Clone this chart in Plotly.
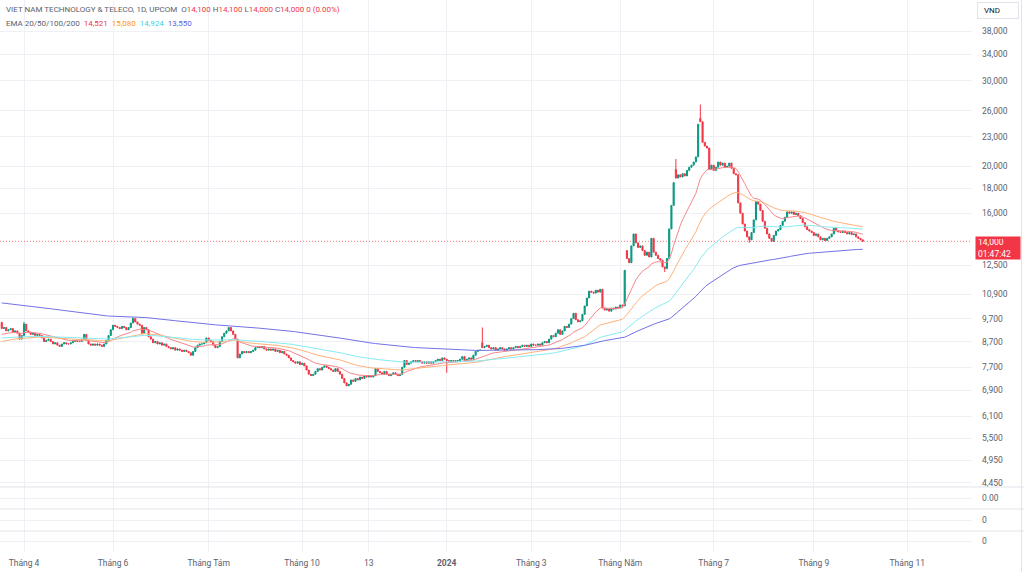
import math
import pandas as pd
import plotly.graph_objects as go
from plotly.subplots import make_subplots

# ------------------------------------------------------------------ data
START_DATE = "2023-03-20"
END_DATE = "2024-10-04"
HOLIDAYS = ["2023-05-01", "2023-05-02", "2023-05-03", "2023-09-01", "2023-09-04",
            "2024-01-01", "2024-02-08", "2024-02-09", "2024-02-12", "2024-02-13",
            "2024-02-14", "2024-04-18", "2024-04-29", "2024-04-30", "2024-05-01",
            "2024-09-02", "2024-09-03"]

closes = [
    9250, 9300, 9150, 9200, 9250, 9100, 9150, 9050, 8800, 8950,
    9450, 9150, 9100, 9000, 9050, 8950, 9000, 8950, 8850, 8700,
    8750, 8800, 8700, 8600, 8650, 8550, 8500, 8600, 8650, 8600,
    8600, 8650, 8700, 8750, 8700, 8700, 8800, 9000, 8750, 8600,
    8550, 8600, 8550, 8600, 8550, 8500, 8600, 8750, 8950, 9200,
    9400, 9350, 9300, 9250, 9350, 9300, 9200, 9300, 9500, 9700,
    9550, 9450, 9400, 9050, 9300, 9200, 8900, 8800, 8650, 8700,
    8600, 8650, 8550, 8600, 8500, 8450, 8400, 8450, 8350, 8400,
    8350, 8300, 8350, 8300, 8250, 8150, 8300, 8450, 8550, 8600,
    8600, 8650, 8850, 8750, 8700, 8550, 8450, 8500, 8700, 8900,
    9050, 9150, 9300, 9150, 9000, 8800, 8050, 8200, 8300, 8250,
    8300, 8250, 8300, 8350, 8450, 8500, 8450, 8500, 8400, 8350,
    8400, 8350, 8400, 8300, 8350, 8250, 8300, 8200, 8150, 8050,
    7950, 7900, 7850, 7900, 7800, 7850, 7750, 7600, 7450, 7400,
    7450, 7550, 7650, 7600, 7700, 7750, 7700, 7650, 7600, 7550,
    7650, 7550, 7450, 7300, 7150, 7050, 7100, 7250, 7200, 7300,
    7250, 7350, 7300, 7400, 7350, 7400, 7350, 7400, 7650, 7550,
    7500, 7450, 7550, 7450, 7400, 7450, 7500, 7450, 7400, 7450,
    7700, 7950, 7800, 7850, 7900, 7950, 7900, 7950, 7900, 7850,
    7900, 7850, 7900, 7850, 7900, 7950, 8000, 7950, 8050, 8000,
    7950, 7900, 7950, 7900, 7950, 7950, 8000, 8100, 7950, 8000,
    8050, 8000, 8150, 8300, 8350, 8350, 8450, 8500, 8550, 8450,
    8400, 8450, 8350, 8400, 8450, 8400, 8350, 8400, 8450, 8400,
    8450, 8500, 8450, 8500, 8550, 8500, 8550, 8500, 8600, 8550,
    8550, 8600, 8550, 8650, 8700, 8650, 8800, 8950, 8900, 9050,
    9200, 9000, 9150, 9350, 9300, 9450, 9700, 9950, 9650, 9550,
    9600, 9900, 10300, 10700, 11050, 11000, 10950, 11100, 11000, 11150,
    10200, 10100, 10150, 10050, 10200, 10150, 10250, 10200, 10350, 10300,
    12200, 12900, 12650, 13700, 14500, 13900, 13600, 13700, 13400, 13100,
    13300, 13000, 14200, 13300, 13100, 12900, 12800, 12400, 12300, 12900,
    14850, 16600, 18500, 18900, 19200, 19000, 19300, 19100, 19600, 19900,
    20100, 20400, 20900, 24400, 24700, 22400, 22000, 21800, 19700, 20100,
    19600, 19900, 20400, 20100, 20300, 19900, 20000, 20300, 19800, 19300,
    19200, 16800, 16000, 15200, 14700, 14300, 14100, 14600, 15500, 16900,
    16700, 16200, 15400, 14900, 14500, 14200, 14000, 14400, 14700, 14800,
    15100, 15400, 15700, 16100, 16000, 16100, 15900, 16000, 15800, 15600,
    15300, 15000, 14800, 14700, 14600, 14400, 14500, 14300, 14100, 14200,
    14050, 14200, 14300, 14500, 14900, 14700, 14650, 14600, 14700, 14600,
    14500, 14600, 14450, 14500, 14300, 14200, 14100, 14000,
]
open_overrides = {0: 9530, 216: 8650, 281: 13400, 303: 19700, 314: 25100}
high_overrides = {10: 9550, 59: 9750, 216: 9300, 303: 20700, 314: 26800}
low_overrides = {200: 7500, 298: 12100, 336: 13900}

ema_periods = [20, 50, 100, 200]
ema_seeds = [9000, 8700, 8850, 10450]
ema_line_colors = ["#f6868a", "#ffb27a", "#86ebf3", "#7272e6"]
ema_legend_values = ["14,521", "15,080", "14,924", "13,550"]
ema_legend_colors = ["#F23645", "#FF9800", "#3fd0e0", "#5b5fe0"]

last_ohlc = [("O", "14,100"), ("H", "14,100"), ("L", "14,000"), ("C", "14,000")]
change_text = "0 (0.00%)"
symbol_title = "VIET NAM TECHNOLOGY &amp; TELECO, 1D, UPCOM"
countdown = "01:47:42"
currency = "VND"

price_ticks = [4450, 4950, 5500, 6100, 6900, 7700, 8700, 9700, 10900, 12500,
               16000, 18000, 20000, 23000, 26000, 30000, 34000, 38000]
time_ticks = [("2023-04-01", "Tháng 4"), ("2023-06-01", "Tháng 6"),
              ("2023-08-01", "Tháng Tám"), ("2023-10-01", "Tháng 10"),
              ("2023-11-13", "13"), ("2024-01-01", "<b>2024</b>"),
              ("2024-03-01", "Tháng 3"), ("2024-05-01", "Tháng Năm"),
              ("2024-07-01", "Tháng 7"), ("2024-09-01", "Tháng 9"),
              ("2024-11-01", "Tháng 11")]
pane_labels = ["0.00", "0", "0"]

# ------------------------------------------------------------------ derived
dates = list(pd.bdate_range(START_DATE, END_DATE, freq="C", holidays=HOLIDAYS))
n = min(len(dates), len(closes))
dates = dates[:n]
closes = closes[:n]
idx = list(range(n))

opens, highs, lows = [], [], []
for i in range(n):
    o = open_overrides.get(i, closes[i - 1] if i > 0 else closes[i])
    c = closes[i]
    opens.append(o)
    highs.append(high_overrides.get(i, max(o, c)))
    lows.append(low_overrides.get(i, min(o, c)))

emas = []
for p, seed in zip(ema_periods, ema_seeds):
    a = 2.0 / (p + 1)
    vals = [seed]
    for c in closes[1:]:
        vals.append(a * c + (1 - a) * vals[-1])
    emas.append(vals)

future = list(pd.bdate_range(dates[-1] + pd.Timedelta(days=1), "2024-12-31"))
all_dates = dates + future
tickvals, ticktext = [], []
for d, label in time_ticks:
    t = pd.Timestamp(d)
    k = next(j for j, dd in enumerate(all_dates) if dd >= t)
    tickvals.append(k)
    ticktext.append(label)

# ------------------------------------------------------------------ figure
W, H = 1024, 572
ML, MR, MT, MB = 0, 52, 0, 20
PW, PH = W - ML - MR, H - MT - MB
X_RANGE = [-0.79, 436.1]
Y_RANGE = [3.6396, 4.6437]
UP, DN = "#089981", "#F23645"
GRID = "#eef0f5"
SEP = "#e0e3eb"
TXT = "#5d606b"
FONT = "Roboto"


def py(pix):
    return 1 - pix / PH


fig = make_subplots(rows=4, cols=1, shared_xaxes=True, vertical_spacing=0)

fig.add_trace(go.Scatter(x=X_RANGE, y=[closes[-1], closes[-1]], mode="lines",
                         line=dict(color="rgba(242,54,69,0.7)", width=1, dash="1px,2px"),
                         hoverinfo="skip"),
              row=1, col=1)

fig.add_trace(go.Candlestick(
    x=idx, open=opens, high=highs, low=lows, close=closes,
    increasing=dict(line=dict(color=UP, width=1), fillcolor=UP),
    decreasing=dict(line=dict(color=DN, width=1), fillcolor=DN),
    whiskerwidth=0, hoverinfo="skip"), row=1, col=1)

for vals, col in zip(emas, ema_line_colors):
    fig.add_trace(go.Scatter(x=idx, y=vals, mode="lines",
                             line=dict(color=col, width=1), hoverinfo="skip"),
                  row=1, col=1)

for r in (2, 3, 4):
    fig.add_trace(go.Scatter(x=[], y=[], mode="lines"), row=r, col=1)

domains = [[py(487), 1], [py(509), py(487)], [py(531), py(509)], [0, py(531)]]

fig.update_xaxes(range=X_RANGE, tickvals=tickvals, ticktext=ticktext,
                 showgrid=True, gridcolor=GRID, gridwidth=1, zeroline=False,
                 showline=False, ticks="", rangeslider_visible=False,
                 tickfont=dict(family=FONT, size=8.5, color=TXT))
fig.update_xaxes(showticklabels=True, ticklabelstandoff=4, row=4, col=1)

fig.update_layout(
    width=W, height=H, margin=dict(l=ML, r=MR, t=MT, b=MB),
    paper_bgcolor="white", plot_bgcolor="white", showlegend=False,
    hovermode=False,
    yaxis=dict(domain=domains[0], type="log", range=Y_RANGE, side="right",
               tickvals=price_ticks, ticktext=[f"{v:,}" for v in price_ticks],
               showgrid=True, gridcolor=GRID, zeroline=False, showline=False,
               ticks="", ticklabelstandoff=9,
               tickfont=dict(family=FONT, size=8.5, color=TXT)),
)
for k, (dom, lab) in enumerate(zip(domains[1:], pane_labels), start=2):
    fig.update_layout(**{f"yaxis{k}": dict(
        domain=dom, range=[-1, 1], side="right", tickvals=[0], ticktext=[lab],
        showgrid=True, gridcolor=GRID, zeroline=False, showline=False,
        ticks="", ticklabelstandoff=9,
        tickfont=dict(family=FONT, size=8.5, color=TXT))})

shapes = []
for yp in (py(487), py(509), py(531)):
    shapes.append(dict(type="line", xref="paper", yref="paper", x0=0, x1=W / PW,
                       y0=yp, y1=yp, line=dict(color=SEP, width=1)))
shapes.append(dict(type="line", xref="paper", yref="paper", x0=1021.5 / PW,
                   x1=1021.5 / PW, y0=-MB / PH, y1=1, line=dict(color=SEP, width=1)))
fig.update_layout(shapes=shapes)

red = lambda s: f"<span style='color:{DN}'>{s}</span>"
line1 = symbol_title + "&nbsp;&nbsp;" + "&nbsp;".join(
    f"{k}{red(v)}" for k, v in last_ohlc) + "&nbsp;" + red(change_text)
line2 = "EMA 20/50/100/200&nbsp;&nbsp;" + "&nbsp;&nbsp;".join(
    f"<span style='color:{c}'>{v}</span>" for v, c in zip(ema_legend_values, ema_legend_colors))

annotations = [
    dict(text=line1, xref="paper", yref="paper", x=0, xshift=4, xanchor="left",
         y=py(10), yanchor="middle", showarrow=False,
         font=dict(family=FONT, size=8, color=TXT)),
    dict(text=line2, xref="paper", yref="paper", x=0, xshift=4, xanchor="left",
         y=py(24), yanchor="middle", showarrow=False,
         font=dict(family=FONT, size=8, color=TXT)),
    dict(text="&nbsp;&nbsp;" + currency, xref="paper", yref="paper", x=977 / PW,
         xanchor="left", y=py(2), yanchor="top", showarrow=False, align="left",
         width=36, height=11, borderpad=2, borderwidth=1, bordercolor=SEP,
         font=dict(family=FONT, size=8, color="#131722")),
    dict(text=f"{closes[-1]:,}<br>{countdown}", xref="paper", yref="y",
         x=1, xshift=3, xanchor="left", y=math.log10(closes[-1]), yshift=5,
         yanchor="top", showarrow=False, align="left", width=40, height=18,
         borderpad=2, bgcolor=DN, font=dict(family=FONT, size=8.5, color="white")),
]
fig.update_layout(annotations=annotations)

fig.write_html("out.html")
